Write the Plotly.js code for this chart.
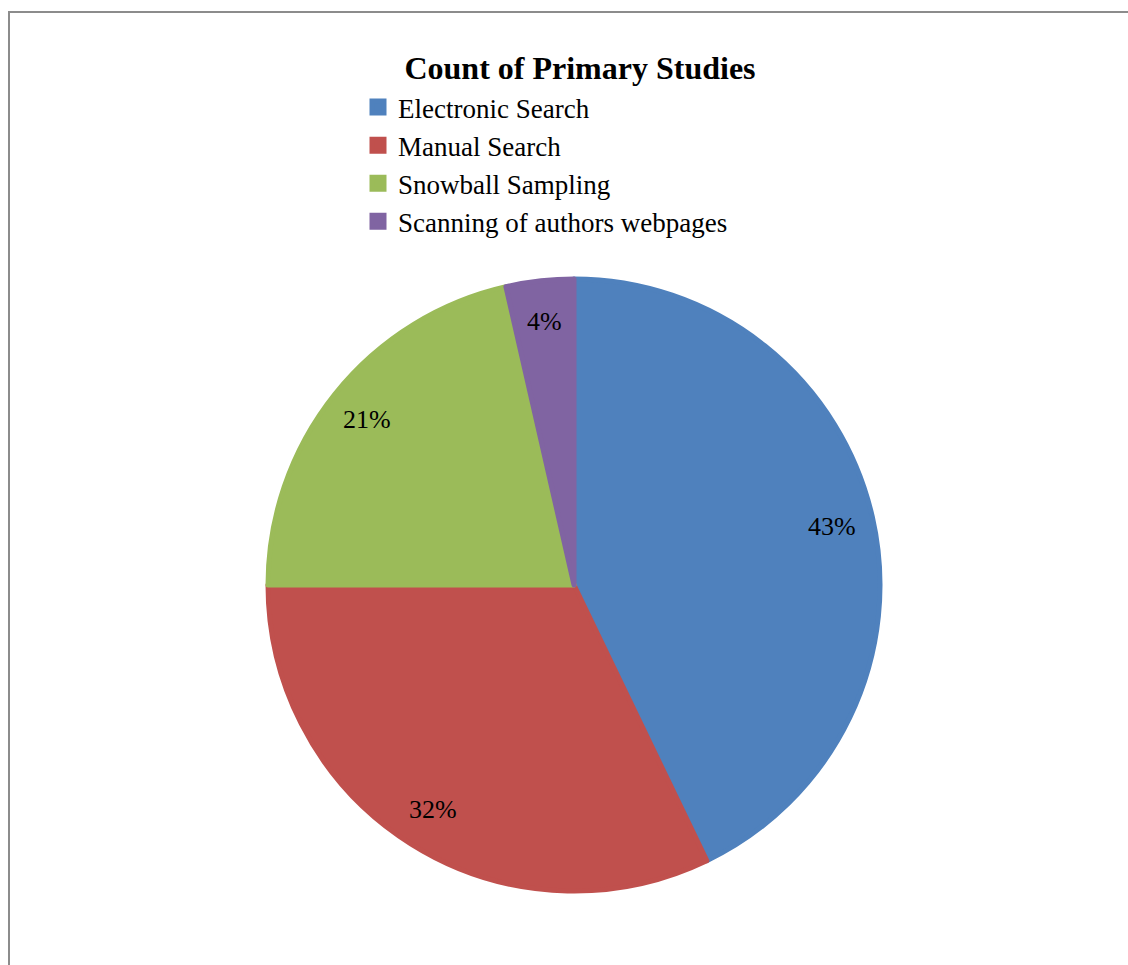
<!DOCTYPE html>
<html>
<head>
<meta charset="utf-8">
<script src="https://cdn.plot.ly/plotly-3.0.1.min.js"></script>
<style>
  html, body { margin: 0; padding: 0; background: #fff; overflow: hidden; }
  #frame { position: absolute; left: 8px; top: 11px; width: 1200px; height: 1000px;
           border-left: 2px solid #8c8c8c; border-top: 2px solid #8c8c8c; }
  #chart { position: absolute; left: 0; top: 0; width: 1128px; height: 965px; }
</style>
</head>
<body>
<div id="frame"></div>
<div id="chart"></div>
<script>
// Primary studies found through each search strategy
const sources = ["Electronic Search", "Manual Search", "Snowball Sampling", "Scanning of authors webpages"];
const studyCounts = [24, 18, 12, 2];
const sliceColors = ["#4F81BD", "#C0504D", "#9BBB59", "#8064A2"];

const W = 1128, H = 965;
const SERIF = "Liberation Serif, Times New Roman, serif";
const cx = 574, cy = 585, R = 306;   // pie centre and radius in pixels (edge stroke adds ~2px)
const labelRadius = 0.865 * R;

const total = studyCounts.reduce((a, b) => a + b, 0);

// Percentage labels placed at the middle angle of each slice (clockwise from 12 o'clock)
const annotations = [];
let cum = 0;
studyCounts.forEach((v) => {
  const mid = (cum + v / 2) / total * 2 * Math.PI;
  cum += v;
  const px = cx + labelRadius * Math.sin(mid);
  const py = cy - labelRadius * Math.cos(mid);
  annotations.push({
    xref: "paper", yref: "paper",
    x: px / W, y: 1 - py / H,
    xanchor: "center", yanchor: "middle",
    showarrow: false,
    text: Math.round(v / total * 100) + "%",
    font: { family: SERIF, size: 26, color: "#000" }
  });
});

const trace = {
  type: "pie",
  labels: sources,
  values: studyCounts,
  sort: false,
  direction: "clockwise",
  rotation: 0,
  // edge drawn in the slice's own colour so the legend swatches come out larger
  marker: { colors: sliceColors, line: { color: sliceColors, width: 5 } },
  textinfo: "none",
  hoverinfo: "label+percent",
  domain: { x: [(cx - R) / W, (cx + R) / W], y: [1 - (cy + R) / H, 1 - (cy - R) / H] }
};

const layout = {
  width: W, height: H,
  margin: { l: 0, r: 0, t: 0, b: 0 },
  paper_bgcolor: "rgba(0,0,0,0)",
  plot_bgcolor: "rgba(0,0,0,0)",
  font: { family: SERIF, color: "#000" },
  title: {
    text: "<b>Count of Primary Studies</b>",
    font: { family: SERIF, size: 32, color: "#000" },
    xref: "paper", yref: "container",
    x: 580 / W, xanchor: "center",
    y: 1 - 68 / H, yanchor: "middle"
  },
  showlegend: true,
  legend: {
    x: 358 / W, y: 1 - 83 / H, xanchor: "left", yanchor: "top",
    font: { family: SERIF, size: 27, color: "#000" },
    bgcolor: "rgba(0,0,0,0)",
    itemwidth: 30,
    tracegroupgap: 0
  },
  annotations: annotations
};

Plotly.newPlot("chart", [trace], layout, { displayModeBar: false, staticPlot: true });
</script>
</body>
</html>
